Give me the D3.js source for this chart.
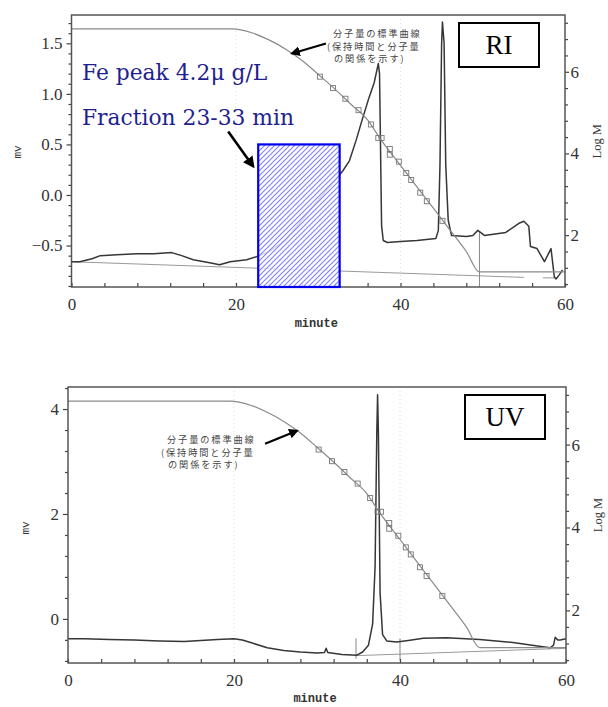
<!DOCTYPE html>
<html>
<head>
<meta charset="utf-8">
<script src="https://cdn.jsdelivr.net/npm/d3@7"></script>
<style>
  html, body { margin: 0; padding: 0; background: #fff; }
  svg { display: block; }
</style>
</head>
<body>
<svg id="chart" width="608" height="707"></svg>
<script>
// //////////////////////////////////////////////////////////////////////////
// Data

// retention time axis, minutes
const minuteDomain = [0, 60];
const minuteTicks = [0, 20, 40, 60];

// Log M axis, the same on both panels
const logMDomain = [0.73, 7.39];
const logMTicks = [2, 4, 6];

// RI panel, mv
const riDomain = [-0.91, 1.78];
const riTicks = [-0.5, 0.0, 0.5, 1.0, 1.5];

// UV panel, mv
const uvDomain = [-0.84, 4.42];
const uvTicks = [0, 2, 4];

// molecular weight calibration line [minute, log M]
const calibCurve = [
  [0, 7.05], [19.5, 7.05], [22, 6.95], [24, 6.78], [26, 6.56], [28, 6.28],
  [30.2, 5.9], [32, 5.58], [34, 5.2], [36, 4.82], [37.5, 4.37], [40, 3.71],
  [42, 3.18], [44, 2.66], [46, 2.13], [48, 1.6], [49.6, 1.1], [60, 1.1],
];

// calibration standards [minute, log M]
const calibPoints = [
  [30.2, 5.88], [31.8, 5.6], [33.3, 5.34], [34.9, 5.06], [36.4, 4.71],
  [37.3, 4.38], [37.7, 4.38], [38.7, 4.11], [38.7, 3.97], [39.8, 3.8],
  [40.7, 3.52], [41.3, 3.35], [42.4, 3.04], [43.2, 2.83], [45.1, 2.35],
];

// RI detector trace [minute, mv]
const riTrace = [
  [0, -0.66], [1, -0.66], [2.5, -0.63], [3.5, -0.6], [5.5, -0.59], [8, -0.58],
  [10, -0.58], [12.2, -0.57], [13.4, -0.6], [14.8, -0.64], [16.8, -0.67],
  [18, -0.69], [19.3, -0.66], [21.3, -0.64], [22.5, -0.61], [24, -0.56],
  [26, -0.45], [28, -0.25], [30, -0.05], [32, 0.14], [33, 0.24], [33.8, 0.34],
  [34.6, 0.54], [35.4, 0.76], [36.2, 0.97], [36.8, 1.11], [37.3, 1.3],
  [37.45, 1.2], [37.7, -0.3], [37.9, -0.45], [38.4, -0.47], [40, -0.46],
  [42, -0.45], [44.3, -0.43], [44.6, -0.35], [44.8, 0.3], [45.0, 1.5],
  [45.1, 1.71], [45.3, 1.5], [45.5, 0.3], [45.8, -0.25], [46.2, -0.4],
  [48, -0.41], [48.8, -0.4], [49.4, -0.35], [50.2, -0.4], [52.8, -0.37],
  [54.4, -0.28], [55.0, -0.26], [55.6, -0.31], [55.8, -0.51], [56.6, -0.53],
  [57.5, -0.66], [58.3, -0.53], [58.7, -0.81], [58.9, -0.83], [59.3, -0.79],
  [59.7, -0.74],
];
const riBaselines = [
  [[0, -0.66], [55, -0.815]],
  [[57.3, -0.82], [59.1, -0.82]],
];
// integration drop lines [minute, mv from, mv to]
const riDrops = [[49.6, -0.36, -0.91]];

// UV detector trace [minute, mv]
const uvTrace = [
  [0, -0.38], [2, -0.38], [5, -0.39], [8, -0.4], [11, -0.42], [14, -0.43],
  [16, -0.41], [18, -0.39], [20, -0.38], [21, -0.4], [22, -0.45], [24, -0.55],
  [26, -0.6], [28, -0.63], [30, -0.65], [30.9, -0.64], [31.1, -0.56],
  [31.3, -0.64], [33, -0.68], [34.8, -0.69], [35.5, -0.63], [36.2, -0.5],
  [36.7, -0.1], [37.0, 1.0], [37.2, 3.5], [37.3, 4.27], [37.4, 3.5],
  [37.6, 0.5], [37.9, -0.3], [38.4, -0.42], [39.6, -0.44], [41, -0.41],
  [42.8, -0.37], [45.6, -0.36], [49.6, -0.39], [53.6, -0.45], [57.2, -0.53],
  [58.1, -0.55], [58.5, -0.5], [58.7, -0.35], [59, -0.4], [59.3, -0.4],
  [60, -0.38],
];
const uvBaselines = [
  [[34.7, -0.7], [60, -0.56]],
];
const uvDrops = [[34.7, -0.37, -0.76], [40, -0.37, -0.79]];

// collected fraction
const fractionRange = [22.7, 32.6];
const fractionTop = 0.5;

const noteLines = ['分子量の標準曲線', '(保持時間と分子量', 'の関係を示す)'];

// //////////////////////////////////////////////////////////////////////////
// Setup

const svg = d3.select('#chart');
const defs = svg.append('defs');

defs.append('pattern')
  .attr('id', 'hatch')
  .attr('patternUnits', 'userSpaceOnUse')
  .attr('width', 5)
  .attr('height', 5)
  .append('path')
  .attr('d', 'M-1,1 l2,-2 M0,5 l5,-5 M4,6 l2,-2')
  .attr('stroke', '#8080ff')
  .attr('stroke-width', 1.1);

defs.append('marker')
  .attr('id', 'arrow')
  .attr('viewBox', '0 0 10 10')
  .attr('refX', 8)
  .attr('refY', 5)
  .attr('markerWidth', 4.5)
  .attr('markerHeight', 4.5)
  .attr('orient', 'auto')
  .append('path')
  .attr('d', 'M0,0 L10,5 L0,10 z')
  .attr('fill', '#000');

const minorTicks = (domain, step, skip) => d3.range(
  Math.ceil(domain[0] / step) * step, domain[1] + 1e-9, step,
).map((v) => +v.toFixed(2)).filter((v) => !skip.some((s) => Math.abs(s - v) < 1e-6));

const serif = '"Liberation Serif", "Times New Roman", serif';

// //////////////////////////////////////////////////////////////////////////
// One chromatogram panel

const drawPanel = (cfg) => {
  const g = svg.append('g');

  const x = d3.scaleLinear().domain(minuteDomain).range([cfg.left, cfg.right]);
  const y = d3.scaleLinear().domain(cfg.mvDomain).range([cfg.bottom, cfg.top]);
  const yM = d3.scaleLinear().domain(logMDomain).range([cfg.bottom, cfg.top]);

  const lineMv = d3.line().x((d) => x(d[0])).y((d) => y(d[1]));
  const lineM = d3.line().x((d) => x(d[0])).y((d) => yM(d[1])).curve(d3.curveMonotoneX);

  // faint chart-paper guides
  g.selectAll('.guide')
    .data([20, 40])
    .join('line')
    .attr('x1', (d) => x(d)).attr('x2', (d) => x(d))
    .attr('y1', cfg.top).attr('y2', cfg.bottom)
    .attr('stroke', '#dcdcdc')
    .attr('stroke-dasharray', '1,3');

  // baselines and drop lines
  g.selectAll('.base')
    .data(cfg.baselines)
    .join('path')
    .attr('d', lineMv)
    .attr('fill', 'none')
    .attr('stroke', '#999')
    .attr('stroke-width', 1);

  g.selectAll('.drop')
    .data(cfg.drops)
    .join('line')
    .attr('x1', (d) => x(d[0])).attr('x2', (d) => x(d[0]))
    .attr('y1', (d) => y(d[1])).attr('y2', (d) => y(d[2]))
    .attr('stroke', '#888')
    .attr('stroke-width', 1);

  // detector trace
  g.append('path')
    .datum(cfg.trace)
    .attr('d', lineMv)
    .attr('fill', 'none')
    .attr('stroke', '#363636')
    .attr('stroke-width', 1.5)
    .attr('stroke-linejoin', 'round');

  // calibration line and standards
  g.append('path')
    .datum(calibCurve)
    .attr('d', lineM)
    .attr('fill', 'none')
    .attr('stroke', '#8a8a8a')
    .attr('stroke-width', 1.2);

  g.selectAll('.std')
    .data(calibPoints)
    .join('rect')
    .attr('x', (d) => x(d[0]) - 2.5)
    .attr('y', (d) => yM(d[1]) - 2.5)
    .attr('width', 5)
    .attr('height', 5)
    .attr('fill', 'none')
    .attr('stroke', '#777')
    .attr('stroke-width', 0.9);

  // axes
  const mvMajor = d3.axisLeft(y).tickValues(cfg.mvTicks).tickFormat(cfg.mvFormat)
    .tickSize(5).tickPadding(4);
  const mvMinor = d3.axisLeft(y).tickValues(minorTicks(cfg.mvDomain, cfg.mvStep, cfg.mvTicks))
    .tickFormat('').tickSize(3);
  const mMajor = d3.axisRight(yM).tickValues(logMTicks).tickFormat(d3.format('d'))
    .tickSize(4).tickPadding(1.5);
  const mMinor = d3.axisRight(yM).tickValues(minorTicks(logMDomain, 0.4, logMTicks))
    .tickFormat('').tickSize(3);
  const tMajor = d3.axisBottom(x).tickValues(minuteTicks).tickFormat(d3.format('d'))
    .tickSize(-4).tickPadding(11);
  const tMinor = d3.axisBottom(x).tickValues(minorTicks(minuteDomain, 4, minuteTicks))
    .tickFormat('').tickSize(-4);

  [[mvMajor, cfg.left, 0], [mvMinor, cfg.left, 0], [mMajor, cfg.right, 0],
    [mMinor, cfg.right, 0], [tMajor, 0, cfg.bottom], [tMinor, 0, cfg.bottom]]
    .forEach(([axis, tx, ty]) => {
      const a = g.append('g').attr('transform', `translate(${tx},${ty})`).call(axis);
      a.select('.domain').remove();
      a.selectAll('.tick line').attr('stroke', '#444').attr('stroke-width', 1.2);
      a.selectAll('.tick text')
        .style('font-family', serif)
        .style('font-size', '17px')
        .attr('fill', '#333');
    });

  // frame
  g.append('rect')
    .attr('x', cfg.left).attr('y', cfg.top)
    .attr('width', cfg.right - cfg.left).attr('height', cfg.bottom - cfg.top)
    .attr('fill', 'none')
    .attr('stroke', '#555')
    .attr('stroke-width', 1.5);

  // axis titles
  g.append('text')
    .attr('transform', `translate(${cfg.mvLabel[0]},${cfg.mvLabel[1]}) rotate(-90)`)
    .attr('text-anchor', 'middle')
    .attr('dy', '0.35em')
    .style('font-family', '"Liberation Mono", monospace')
    .style('font-size', '11px')
    .attr('fill', '#333')
    .text('mv');

  g.append('text')
    .attr('transform', `translate(${cfg.right + 32},${yM(4.3)}) rotate(-90)`)
    .attr('text-anchor', 'middle')
    .attr('dy', '0.35em')
    .style('font-family', serif)
    .style('font-size', '12.5px')
    .attr('fill', '#333')
    .text('Log M');

  g.append('text')
    .attr('x', x(30) - 2)
    .attr('y', cfg.bottom + cfg.minuteDy)
    .attr('text-anchor', 'middle')
    .style('font-family', '"Liberation Mono", monospace')
    .style('font-weight', 'bold')
    .style('font-size', '12px')
    .attr('fill', '#333')
    .text('minute');

  // detector tag
  const bx = cfg.right - cfg.tagRight;
  g.append('rect')
    .attr('x', bx).attr('y', cfg.top + 8)
    .attr('width', 80).attr('height', 44)
    .attr('fill', '#fff')
    .attr('stroke', '#000')
    .attr('stroke-width', 2);
  g.append('text')
    .attr('x', bx + 40).attr('y', cfg.top + 39)
    .attr('text-anchor', 'middle')
    .style('font-family', serif)
    .style('font-size', '27px')
    .attr('fill', '#000')
    .text(cfg.tag);

  // calibration note + arrow pointing at the curve
  const calibAt = d3.scaleLinear().domain(calibCurve.map((d) => d[0]))
    .range(calibCurve.map((d) => d[1]));
  const tip = [x(cfg.noteAt), yM(calibAt(cfg.noteAt))];
  g.append('line')
    .attr('x1', tip[0] + cfg.noteArrow[0]).attr('y1', tip[1] + cfg.noteArrow[1])
    .attr('x2', tip[0]).attr('y2', tip[1])
    .attr('stroke', '#000')
    .attr('stroke-width', 2.2)
    .attr('marker-end', 'url(#arrow)');

  g.selectAll('.note')
    .data(noteLines)
    .join('text')
    .attr('x', (d, i) => cfg.note[0] + [0, -6, 1][i])
    .attr('y', (d, i) => cfg.note[1] + i * cfg.noteGap)
    .style('font-family', '"Noto Sans CJK JP", sans-serif')
    .style('font-size', '9.2px')
    .style('letter-spacing', '1.9px')
    .attr('fill', '#444')
    .text((d) => d);

  return { g, x, y };
};

// //////////////////////////////////////////////////////////////////////////
// RI panel

const ri = drawPanel({
  left: 71.5, right: 565, top: 15, bottom: 287,
  mvDomain: riDomain, mvTicks: riTicks, mvStep: 0.1, mvFormat: d3.format('.1f'),
  trace: riTrace, baselines: riBaselines, drops: riDrops,
  mvLabel: [17, 152], minuteDy: 40,
  tag: 'RI', tagRight: 106,
  noteAt: 26.8, noteArrow: [34, -10], note: [333, 37], noteGap: 12.5,
});

// fraction box: veil the trace, then hatch
const fx = ri.x(fractionRange[0]);
const fw = ri.x(fractionRange[1]) - fx;
const fy = ri.y(fractionTop);
const fh = ri.y(riDomain[0]) - fy;

ri.g.append('rect')
  .attr('x', fx).attr('y', fy).attr('width', fw).attr('height', fh)
  .attr('fill', '#fff')
  .attr('fill-opacity', 0.8);

ri.g.append('rect')
  .attr('x', fx).attr('y', fy).attr('width', fw).attr('height', fh)
  .attr('fill', 'url(#hatch)')
  .attr('stroke', '#0000f0')
  .attr('stroke-width', 2.2);

ri.g.append('line')
  .attr('x1', fx - 30).attr('y1', fy - 13)
  .attr('x2', fx - 5).attr('y2', fy + 22)
  .attr('stroke', '#000')
  .attr('stroke-width', 2.6)
  .attr('marker-end', 'url(#arrow)');

ri.g.selectAll('.fe')
  .data(['Fe peak 4.2μ g/L', 'Fraction 23-33 min'])
  .join('text')
  .attr('x', 82)
  .attr('y', (d, i) => 80 + i * 45)
  .style('font-family', '"DejaVu Serif", "Liberation Serif", serif')
  .style('font-size', '21.8px')
  .attr('fill', '#1f1f8f')
  .text((d) => d);

// //////////////////////////////////////////////////////////////////////////
// UV panel

drawPanel({
  left: 68, right: 566, top: 387, bottom: 663,
  mvDomain: uvDomain, mvTicks: uvTicks, mvStep: 0.4, mvFormat: d3.format('d'),
  trace: uvTrace, baselines: uvBaselines, drops: uvDrops,
  mvLabel: [25, 528], minuteDy: 39,
  tag: 'UV', tagRight: 101,
  noteAt: 27.6, noteArrow: [-32, 13], note: [167, 443], noteGap: 12.5,
});
</script>
</body>
</html>
